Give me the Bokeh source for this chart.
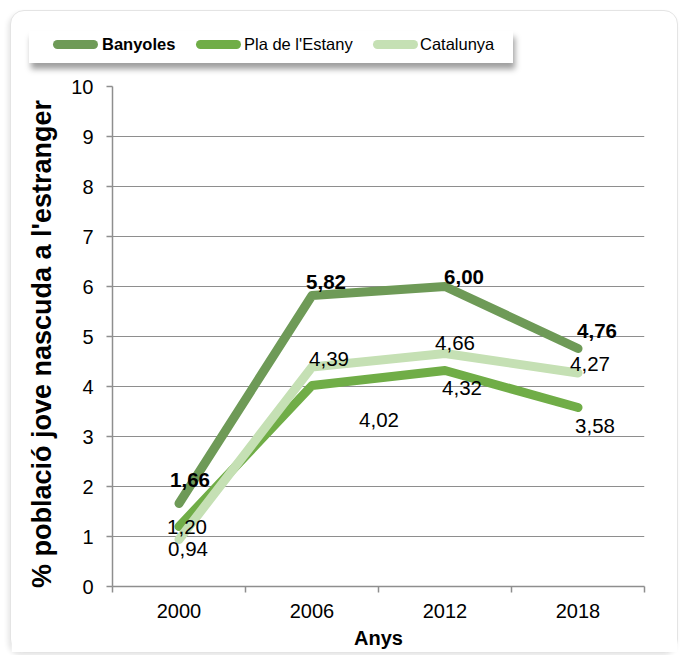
from bokeh.plotting import figure
from bokeh.models import ColumnDataSource, FixedTicker, Div
from bokeh.layouts import column
from bokeh.core.properties import value
from bokeh.embed import file_html
from bokeh.resources import INLINE

# ---- data ----
years = ["2000", "2006", "2012", "2018"]
banyoles = [1.66, 5.82, 6.00, 4.76]
pla = [1.20, 4.02, 4.32, 3.58]
catalunya = [0.94, 4.39, 4.66, 4.27]
y_ticks = [0, 1, 2, 3, 4, 5, 6, 7, 8, 9, 10]
series_names = ["Banyoles", "Pla de l'Estany", "Catalunya"]

# ---- styles ----
FONT = "Liberation Sans"
C_BAN = "#6E9A57"
C_PLA = "#70AD47"
C_CAT = "#C5E0B4"
GRID = "#8E8E8E"
off_ban = [(11, -24), (14, -14), (19, -10), (19, -18)]
off_pla = [(8, 0), (67, 34), (17, 17), (17, 18)]
off_cat = [(9, 9), (17, -8), (10, -11), (12, -9)]
legend_glyph_left = [24, 167, 344]
legend_text_left = [73, 215, 391]

xpos = [i + 0.5 for i in range(len(years))]


def fmt(v):
    return f"{v:.2f}".replace(".", ",")


p = figure(width=666, height=576, output_backend="svg", toolbar_location=None,
           x_range=(0, len(years)), y_range=(0, 10),
           min_border_left=101, min_border_right=33, min_border_top=10,
           min_border_bottom=66)
p.outline_line_color = None
p.background_fill_color = "white"
p.border_fill_color = "white"

p.xaxis.ticker = FixedTicker(ticks=xpos, minor_ticks=list(range(len(years) + 1)))
p.xaxis.major_label_overrides = {x: y for x, y in zip(xpos, years)}
p.xaxis.major_tick_line_color = None
p.xaxis.major_tick_out = 0
p.xaxis.major_tick_in = 0
p.xaxis.minor_tick_line_color = GRID
p.xaxis.minor_tick_line_width = 1.5
p.xaxis.minor_tick_out = 6
p.xaxis.minor_tick_in = 0
p.xaxis.major_label_standoff = 11
p.xaxis.axis_label = "Anys"
p.xaxis.axis_label_standoff = 6

p.yaxis.ticker = FixedTicker(ticks=y_ticks, minor_ticks=[])
p.yaxis.major_tick_out = 6
p.yaxis.major_tick_in = 0
p.yaxis.major_tick_line_color = GRID
p.yaxis.major_tick_line_width = 1.5
p.yaxis.major_label_standoff = 13
p.yaxis.axis_label = "% població jove nascuda a l'estranger" + "\u00a0" * 2
p.yaxis.axis_label_standoff = 11

for ax in (p.xaxis, p.yaxis):
    ax.axis_line_color = GRID
    ax.axis_line_width = 1.5
    ax.major_label_text_font = FONT
    ax.major_label_text_font_size = "20px"
    ax.major_label_text_color = "black"
    ax.axis_label_text_font = FONT
    ax.axis_label_text_font_style = "bold"
    ax.axis_label_text_color = "black"
p.xaxis.axis_label_text_font_size = "20px"
p.yaxis.axis_label_text_font_size = "27px"

p.xgrid.grid_line_color = None
p.ygrid.grid_line_color = GRID
p.ygrid.grid_line_width = 1.2

series = [(series_names[0], banyoles, C_BAN, off_ban, True),
          (series_names[1], pla, C_PLA, off_pla, False),
          (series_names[2], catalunya, C_CAT, off_cat, False)]

for name, vals, col, offs, bold in series:
    p.line(xpos, vals, line_color=col, line_width=9, line_cap="round",
           line_join="round", legend_label=name)

for name, vals, col, offs, bold in series:
    src = ColumnDataSource(dict(x=xpos, y=vals, t=[fmt(v) for v in vals],
                                dx=[o[0] for o in offs],
                                dy=[o[1] for o in offs]))
    p.text(x="x", y="y", text="t", x_offset="dx", y_offset="dy", source=src,
           text_font=value(FONT), text_font_size="20.5px",
           text_font_style="bold" if bold else "normal",
           text_color="black", text_align="center", text_baseline="middle")

p.legend.visible = False  # legend shown in the header strip above the frame

# legend strip (HTML) above the plot frame
items_html = ""
for (name, vals, col, offs, bold), gl, tl in zip(series, legend_glyph_left,
                                                  legend_text_left):
    items_html += (
        f'<span style="position:absolute;left:{gl}px;top:9px;width:45px;'
        f'height:9px;border-radius:5px;background:{col};"></span>'
        f'<span style="position:absolute;left:{tl}px;top:2px;line-height:22px;'
        f'font-family:\'{FONT}\';font-size:16.5px;color:black;'
        f'font-weight:{"bold" if bold else "normal"};white-space:nowrap;">'
        f'{name.replace(chr(39), "&#39;")}</span>')
legend_html = (
    '<div style="position:relative;width:666px;height:65px;">'
    '<div style="position:absolute;left:18px;top:20px;width:484px;height:32px;'
    'background:white;box-shadow:2px 6px 6px rgba(0,0,0,0.38);">'
    + items_html + '</div></div>')
legend_div = Div(text=legend_html, width=666, height=65, margin=0)

layout = column(legend_div, p, spacing=0, margin=0)
layout.styles = {"margin-left": "10px", "margin-top": "10px",
                 "background": "white",
                 "border": "1px solid #e4e4e4", "border-radius": "14px",
                 "box-shadow": "-2px 3px 5px rgba(0,0,0,0.10)"}

open("out.html", "w").write(file_html(layout, INLINE))
